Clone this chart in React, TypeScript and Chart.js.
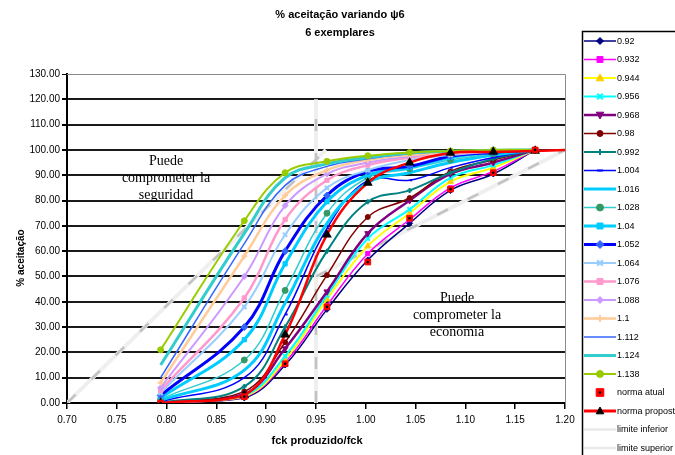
import React, { useEffect, useRef } from 'react';
import { Chart, registerables } from 'chart.js';
Chart.register(...registerables);

// ---------- text ----------
const TITLE_LINES = ['% aceitação variando ψ6', '6 exemplares'];
const X_TITLE = 'fck produzido/fck';
const Y_TITLE = '% aceitação';
const NOTE_LEFT = ['Puede', 'comprometer la', 'seguridad'];
const NOTE_RIGHT = ['Puede', 'comprometer la', 'economia'];

// ---------- data ----------
const FCK_RATIO = [0.794, 0.878, 0.919, 0.961, 1.002, 1.044, 1.085, 1.128, 1.17];

const PSI_LABELS = ['0.92', '0.932', '0.944', '0.956', '0.968', '0.98', '0.992', '1.004', '1.016', '1.028', '1.04', '1.052', '1.064', '1.076', '1.088', '1.1', '1.112', '1.124', '1.138'];

const PSI_0920 = [0, 2, 15, 37, 56.5, 71, 84, 90.5, 100];
const PSI_0932 = [0, 2.3, 16, 38.5, 59, 72.5, 85, 91.5, 100];
const PSI_0944 = [0, 2.6, 17, 41, 62, 75, 87.5, 93, 100];
const PSI_0956 = [0, 3, 18.5, 42.5, 65, 76.5, 89, 94, 100];
const PSI_0968 = [0, 3.5, 21.5, 44, 67, 80, 90.5, 95, 100];
const PSI_0980 = [0, 4.5, 24, 50.5, 73.5, 81, 91.5, 96, 100];
const PSI_0992 = [0, 6.5, 30, 60, 79.5, 84, 91, 96.5, 100];
const PSI_1004 = [0.5, 10, 35, 69, 88, 88, 93, 97, 100];
const PSI_1016 = [1, 13, 39.5, 71, 87, 91, 95, 98, 100];
const PSI_1028 = [1.5, 17, 44.5, 75, 89, 92.5, 96, 98.5, 100];
const PSI_1040 = [2, 25, 55, 79.5, 90, 93, 97, 99, 100];
const PSI_1052 = [3, 30, 60, 82, 91.5, 93.5, 97.5, 99, 100];
const PSI_1064 = [4, 38, 66.5, 85, 92, 96, 98, 99.3, 100];
const PSI_1076 = [5, 41.5, 72.5, 88, 94, 97, 98.5, 99.5, 100];
const PSI_1088 = [6, 50, 78, 90.5, 95, 97.5, 99, 99.6, 100];
const PSI_1100 = [8, 58, 82, 92, 96, 98, 99, 99.7, 100];
const PSI_1112 = [10, 63, 86, 93.5, 96.5, 98.5, 99.3, 99.8, 100];
const PSI_1124 = [15, 67, 89, 94.5, 97, 98.8, 99.5, 99.9, 100];
const PSI_1138 = [21, 72, 91, 95.5, 97.7, 99, 99.6, 100, 100];

const PSI_VALUES = [PSI_0920, PSI_0932, PSI_0944, PSI_0956, PSI_0968, PSI_0980, PSI_0992, PSI_1004, PSI_1016, PSI_1028, PSI_1040, PSI_1052, PSI_1064, PSI_1076, PSI_1088, PSI_1100, PSI_1112, PSI_1124, PSI_1138];

const NORMA_ATUAL = [0, 2.5, 15.5, 38, 55.7, 73, 84.5, 91, 100];
const NORMA_PROPOSTA_X = [0.794, 0.878, 0.919, 0.961, 1.002, 1.044, 1.085, 1.128, 1.17, 1.2];
const NORMA_PROPOSTA = [0, 3, 27, 66.5, 87, 95, 98.8, 99.2, 99.6, 100];

const LIM_INF_X = [0.95, 1.2];
const LIM_INF_Y = [50, 100];
const LIM_SUP_X = [0.7, 0.96];
const LIM_SUP_Y = [0, 100];
const REF_X = [0.95, 0.95];
const REF_Y = [0, 120];

// ---------- styles ----------
type St = { c: string; w: number; m?: string; mf?: string; ms?: string; mr?: number; rot?: number };
const PSI_STYLES: St[] = [
  { c: '#000080', w: 1.5, m: 'rectRot', mf: '#000080', ms: '#000080', mr: 3.5 },
  { c: '#FF00FF', w: 1.5, m: 'rect', mf: '#FF00FF', ms: '#FF00FF', mr: 3.5 },
  { c: '#FFFF00', w: 2, m: 'triangle', mf: '#FFCC00', ms: '#FFCC00', mr: 4 },
  { c: '#00FFFF', w: 2, m: 'crossRot', mf: '#00FFFF', ms: '#00FFFF', mr: 3.5 },
  { c: '#800080', w: 2.5, m: 'triangle', mf: '#800080', ms: '#800080', mr: 4, rot: 180 },
  { c: '#800000', w: 1.5, m: 'circle', mf: '#800000', ms: '#800000', mr: 3 },
  { c: '#008080', w: 2, m: 'cross', mf: '#008080', ms: '#008080', mr: 3 },
  { c: '#0000FF', w: 1.5, m: 'dash', mf: '#0000FF', ms: '#0000FF', mr: 3 },
  { c: '#00CCFF', w: 3 },
  { c: '#33CCCC', w: 1.5, m: 'circle', mf: '#339966', ms: '#339966', mr: 3.5 },
  { c: '#00CCFF', w: 3, m: 'rect', mf: '#00CCFF', ms: '#00CCFF', mr: 3.5 },
  { c: '#0000FF', w: 3, m: 'rectRot', mf: '#3366FF', ms: '#3366FF', mr: 4 },
  { c: '#99CCFF', w: 2, m: 'crossRot', mf: '#99CCFF', ms: '#99CCFF', mr: 3.5 },
  { c: '#FF99CC', w: 2.5, m: 'rect', mf: '#FF99CC', ms: '#FF99CC', mr: 3.5 },
  { c: '#CC99FF', w: 2, m: 'rectRot', mf: '#CC99FF', ms: '#CC99FF', mr: 3.5 },
  { c: '#FFCC99', w: 2.5, m: 'cross', mf: '#FFCC99', ms: '#FFCC99', mr: 3.5 },
  { c: '#3366FF', w: 1.5 },
  { c: '#33CCCC', w: 3 },
  { c: '#99CC00', w: 2, m: 'circle', mf: '#99CC00', ms: '#99CC00', mr: 3.5 },
];
const LIMIT_LIGHT = '#efefef';
const LIMIT_DASH = '#c2c2c2';

const pts = (xs: number[], ys: number[]) => ys.map((y, i) => ({ x: xs[i], y }));

function drawMarker(ctx: CanvasRenderingContext2D, s: string, x: number, y: number, r: number, fill: string, stroke: string, lw: number, rot = 0) {
  ctx.save();
  ctx.translate(x, y);
  if (rot) ctx.rotate((rot * Math.PI) / 180);
  ctx.fillStyle = fill;
  ctx.strokeStyle = stroke;
  ctx.lineWidth = lw;
  ctx.beginPath();
  if (s === 'circle') {
    ctx.arc(0, 0, r, 0, Math.PI * 2);
    ctx.fill();
    ctx.stroke();
  } else if (s === 'rect') {
    const h = r * 0.85;
    ctx.rect(-h, -h, 2 * h, 2 * h);
    ctx.fill();
    ctx.stroke();
  } else if (s === 'rectRot') {
    ctx.moveTo(0, -r); ctx.lineTo(r, 0); ctx.lineTo(0, r); ctx.lineTo(-r, 0); ctx.closePath();
    ctx.fill(); ctx.stroke();
  } else if (s === 'triangle') {
    ctx.moveTo(0, -r); ctx.lineTo(r * 0.95, r * 0.7); ctx.lineTo(-r * 0.95, r * 0.7); ctx.closePath();
    ctx.fill(); ctx.stroke();
  } else if (s === 'cross') {
    ctx.moveTo(-r, 0); ctx.lineTo(r, 0); ctx.moveTo(0, -r); ctx.lineTo(0, r); ctx.stroke();
  } else if (s === 'crossRot') {
    const h = r * 0.8;
    ctx.moveTo(-h, -h); ctx.lineTo(h, h); ctx.moveTo(h, -h); ctx.lineTo(-h, h); ctx.stroke();
  } else if (s === 'dash') {
    ctx.moveTo(-r, 0); ctx.lineTo(r, 0); ctx.stroke();
  }
  ctx.restore();
}

type LegendItem = { label: string; c?: string; w: number; m?: string; mf?: string; ms?: string; mr?: number; rot?: number; dot?: boolean };
const LEGEND_ITEMS: LegendItem[] = [
  ...PSI_LABELS.map((l, i) => ({ label: l, ...PSI_STYLES[i] })),
  { label: 'norma atual', w: 0, m: 'rect', mf: '#FF0000', ms: '#FF0000', mr: 4.5, dot: true },
  { label: 'norma proposta', c: '#FF0000', w: 3, m: 'triangle', mf: '#000000', ms: '#000000', mr: 4 },
  { label: 'limite inferior', c: '#e8e8e8', w: 2.5 },
  { label: 'limite superior', c: '#e8e8e8', w: 2.5 },
];

const decorPlugin = {
  id: 'decor',
  beforeDatasetsDraw(chart: any) {
    const { ctx, chartArea: a } = chart;
    ctx.save();
    ctx.strokeStyle = '#8a8a8a';
    ctx.lineWidth = 1;
    ctx.beginPath();
    ctx.moveTo(a.left, a.top + 0.5);
    ctx.lineTo(a.right + 0.5, a.top + 0.5);
    ctx.lineTo(a.right + 0.5, a.bottom);
    ctx.stroke();
    ctx.restore();
  },
  afterDraw(chart: any) {
    const { ctx } = chart;
    ctx.save();
    ctx.fillStyle = '#000';
    ctx.textAlign = 'center';
    ctx.textBaseline = 'middle';
    // title
    ctx.font = 'bold 11px "Liberation Sans", Arial, sans-serif';
    ctx.fillText(TITLE_LINES[0], 340, 15);
    ctx.fillText(TITLE_LINES[1], 340, 33);
    // axis titles
    ctx.font = 'bold 11px "Liberation Sans", Arial, sans-serif';
    ctx.fillText(X_TITLE, 317, 441);
    ctx.save();
    ctx.translate(21, 258);
    ctx.rotate(-Math.PI / 2);
    ctx.font = 'bold 10px "Liberation Sans", Arial, sans-serif';
    ctx.fillText(Y_TITLE, 0, 0);
    ctx.restore();
    // notes
    ctx.font = '14px "Liberation Serif", "Times New Roman", serif';
    NOTE_LEFT.forEach((t, i) => ctx.fillText(t, 166, 161 + i * 17));
    NOTE_RIGHT.forEach((t, i) => ctx.fillText(t, 457, 298 + i * 17));
    // legend
    ctx.strokeStyle = '#000';
    ctx.lineWidth = 1.5;
    ctx.strokeRect(582.5, 31.5, 200, 500);
    ctx.textAlign = 'left';
    ctx.font = '9px "Liberation Sans", Arial, sans-serif';
    LEGEND_ITEMS.forEach((it, i) => {
      const y = 41 + i * 18.5;
      if (it.w > 0 && it.c) {
        ctx.strokeStyle = it.c;
        ctx.lineWidth = it.w;
        ctx.beginPath();
        ctx.moveTo(584, y);
        ctx.lineTo(616, y);
        ctx.stroke();
      }
      if (it.m) {
        drawMarker(ctx, it.m, 600, y, it.mr || 3, it.mf || '#000', it.ms || '#000', it.m === 'cross' || it.m === 'crossRot' || it.m === 'dash' ? 2 : 1, it.rot || 0);
      }
      if (it.dot) {
        ctx.fillStyle = '#000';
        ctx.beginPath();
        ctx.arc(600, y, 1.3, 0, Math.PI * 2);
        ctx.fill();
      }
      ctx.fillStyle = '#000';
      ctx.fillText(it.label, 617, y + 0.5);
    });
    ctx.restore();
  },
};

function buildDatasets() {
  const ds: any[] = [];
  const limit = (xs: number[], ys: number[], label: string) => {
    ds.push({ label: label + ' base', data: pts(xs, ys), borderColor: LIMIT_LIGHT, borderWidth: 4, pointRadius: 0, tension: 0, order: 200 });
    ds.push({ label, data: pts(xs, ys), borderColor: LIMIT_DASH, borderWidth: 2.5, borderDash: [12, 22], pointRadius: 0, tension: 0, order: 199 });
  };
  limit(LIM_INF_X, LIM_INF_Y, 'limite inferior');
  limit(LIM_SUP_X, LIM_SUP_Y, 'limite superior');
  limit(REF_X, REF_Y, 'referência');

  PSI_LABELS.forEach((label, i) => {
    const s = PSI_STYLES[i];
    ds.push({
      label,
      data: pts(FCK_RATIO, PSI_VALUES[i]),
      borderColor: s.c,
      borderWidth: s.w,
      tension: 0.4,
      pointRadius: s.m ? (s.mr || 3) - 0.5 : 0,
      pointStyle: s.m || 'circle',
      pointRotation: s.rot || 0,
      pointBackgroundColor: s.mf,
      pointBorderColor: s.ms,
      pointBorderWidth: s.m === 'cross' || s.m === 'crossRot' || s.m === 'dash' ? 2 : 1,
      order: 100 - i,
    });
  });
  ds.push({
    label: 'norma proposta',
    data: pts(NORMA_PROPOSTA_X, NORMA_PROPOSTA),
    borderColor: '#FF0000',
    borderWidth: 2.5,
    tension: 0.4,
    pointRadius: NORMA_PROPOSTA_X.map((x) => (x > 1.19 ? 0 : 3.2)),
    pointStyle: 'triangle',
    pointBackgroundColor: '#000',
    pointBorderColor: '#000',
    order: 3,
  });
  ds.push({
    label: 'norma atual',
    data: pts(FCK_RATIO, NORMA_ATUAL),
    showLine: false,
    pointRadius: 4,
    pointStyle: 'rect',
    pointBackgroundColor: '#FF0000',
    pointBorderColor: '#FF0000',
    order: 2,
  });
  ds.push({
    label: 'norma atual centro',
    data: pts(FCK_RATIO, NORMA_ATUAL),
    showLine: false,
    pointRadius: 1.3,
    pointStyle: 'circle',
    pointBackgroundColor: '#000',
    pointBorderColor: '#000',
    pointBorderWidth: 0,
    order: 1,
  });
  return ds;
}

export default function App() {
  const ref = useRef<HTMLCanvasElement>(null);
  useEffect(() => {
    Chart.defaults.font.family = '"Liberation Sans", Arial, sans-serif';
    const chart = new Chart(ref.current as HTMLCanvasElement, {
      type: 'line',
      data: { datasets: buildDatasets() },
      options: {
        animation: false,
        responsive: false,
        devicePixelRatio: 1,
        layout: { padding: { left: 0, right: 110, top: 74, bottom: 0 } },
        plugins: { legend: { display: false }, title: { display: false }, tooltip: { enabled: false } },
        scales: {
          x: {
            type: 'linear',
            min: 0.7,
            max: 1.2,
            ticks: { stepSize: 0.05, callback: (v: any) => Number(v).toFixed(2), font: { size: 10 }, color: '#000', padding: 5, maxRotation: 0, autoSkip: false },
            grid: { drawOnChartArea: false, drawTicks: true, tickLength: 6, color: '#000', lineWidth: 1.5 },
            border: { display: true, color: '#000', width: 2 },
            afterFit: (s: any) => { s.height = 52; },
          },
          y: {
            type: 'linear',
            min: 0,
            max: 130,
            ticks: { stepSize: 10, callback: (v: any) => Number(v).toFixed(2), font: { size: 10 }, color: '#000', padding: 2 },
            grid: {
              color: (c: any) => (c.tick && c.tick.value === 130 ? '#9a9a9a' : '#1a1a1a'),
              lineWidth: (c: any) => (c.tick && c.tick.value === 130 ? 1 : 2),
              tickColor: '#000',
              tickLength: 5,
              drawTicks: true,
            },
            border: { display: true, color: '#000', width: 2 },
            afterFit: (s: any) => { s.width = 67; },
          },
        },
      } as any,
      plugins: [decorPlugin],
    });
    return () => chart.destroy();
  }, []);
  return (
    <div style={{ position: 'absolute', left: 0, top: 0, width: 675, height: 455, background: '#fff' }}>
      <canvas ref={ref} width={675} height={455} style={{ display: 'block', width: 675, height: 455 }} />
    </div>
  );
}
